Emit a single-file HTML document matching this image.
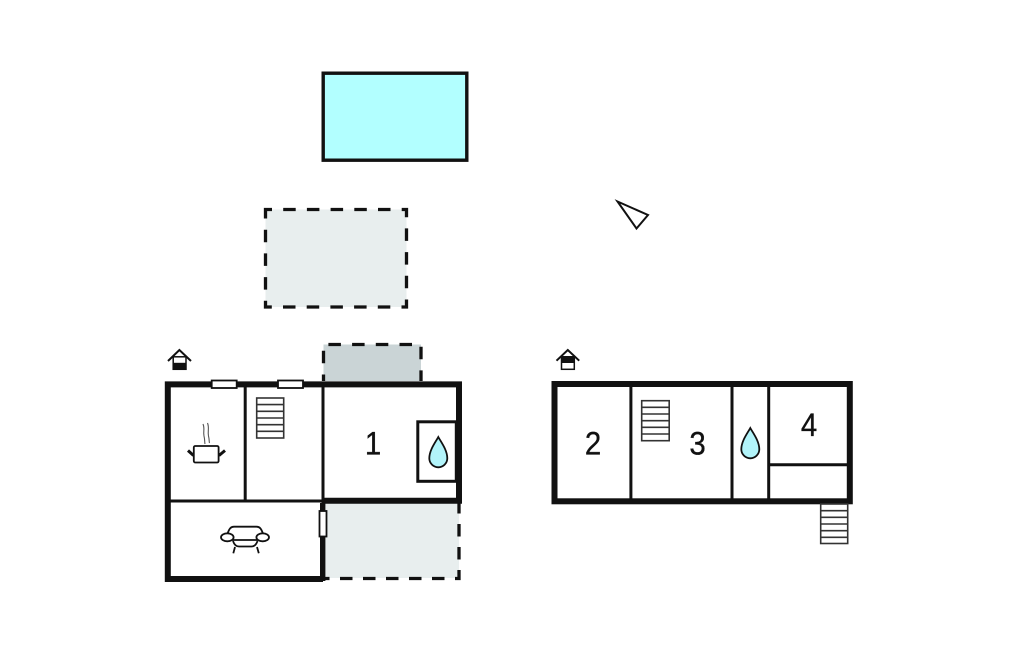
<!DOCTYPE html>
<html>
<head>
<meta charset="utf-8">
<style>
html,body{margin:0;padding:0;background:#fff;}
svg{display:block;}
text{font-family:"Liberation Sans",sans-serif;font-size:32px;fill:#111;stroke:#111;stroke-width:.35px;text-anchor:middle;}
</style>
</head>
<body>
<svg width="1024" height="652" viewBox="0 0 1024 652" xmlns="http://www.w3.org/2000/svg">
<rect width="1024" height="652" fill="#fff"/>

<!-- pool -->
<rect x="323.2" y="73.2" width="143.6" height="87" fill="#b2ffff" stroke="#111" stroke-width="3.4"/>

<!-- dashed terraces -->
<rect x="265.5" y="209.5" width="141" height="97.5" fill="#e8eeee" stroke="#111" stroke-width="3.3" stroke-dasharray="12.5 11.2" stroke-dashoffset="6"/>
<path d="M323.5 381V344.5H421V381" fill="#cad4d6" stroke="#111" stroke-width="3.3" stroke-dasharray="12.5 11.2" stroke-dashoffset="6"/>
<rect x="325" y="503" width="134" height="75" fill="#e8eeee"/>
<path d="M459 503V578.5H325" fill="none" stroke="#111" stroke-width="3.3" stroke-dasharray="12.5 10.5" stroke-dashoffset="2"/>

<!-- compass -->
<polygon points="617.5,201.5 648,215 636.5,228.5" fill="#fff" stroke="#111" stroke-width="2"/>

<!-- left building walls -->
<g fill="none" stroke="#111">
<path d="M323 579H167.8V384.4H459V500.8H323" stroke-width="6"/>
<path d="M323 384V503" stroke-width="3"/>
<path d="M322.7 503V581" stroke-width="5.4"/>
<path d="M245.2 384V501" stroke-width="3"/>
<path d="M170 501H323" stroke-width="3"/>
<rect x="417.8" y="421.8" width="38.5" height="59.5" stroke-width="3"/>
</g>

<!-- windows -->
<g fill="#fff" stroke="#111" stroke-width="1.8">
<rect x="211.7" y="380.5" width="25" height="7.5"/>
<rect x="278" y="380.5" width="25" height="7.5"/>
<rect x="319.5" y="511" width="7" height="25.5"/>
</g>

<!-- right building walls -->
<g fill="none" stroke="#111">
<rect x="554.5" y="384" width="295.3" height="117.3" stroke-width="6"/>
<path d="M630.9 384V501M732 384V501M768.7 384V501" stroke-width="3"/>
<path d="M769 464.7H848" stroke-width="3"/>
</g>

<!-- stairs -->
<g fill="#fff" stroke="#333" stroke-width="1.6">
<rect x="256.7" y="398" width="27" height="40"/>
<path d="M257 404.6H283.5M257 411.3H283.5M257 418H283.5M257 424.7H283.5M257 431.3H283.5"/>
<rect x="641.7" y="400.7" width="27.5" height="40"/>
<path d="M642 407.3H669M642 414H669M642 420.7H669M642 427.3H669M642 434H669"/>
<rect x="820.7" y="504" width="27" height="39.5"/>
<path d="M821 510.7H847.5M821 517.3H847.5M821 524H847.5M821 530.7H847.5M821 537.3H847.5"/>
</g>

<!-- water drops -->
<path d="M438.3 437C441 442 447.3 450 447.3 458.3A9 9 0 0 1 429.3 458.3C429.3 450 435.6 442 438.3 437Z" fill="#b2f4fa" stroke="#111" stroke-width="1.8"/>
<path d="M750.3 428C753 433 759.3 441 759.3 449.3A9 9 0 0 1 741.3 449.3C741.3 441 747.6 433 750.3 428Z" fill="#b2f4fa" stroke="#111" stroke-width="1.8"/>

<!-- house icons -->
<g>
<rect x="173.2" y="356.8" width="12.8" height="12.5" fill="#fff" stroke="#111" stroke-width="1.5"/>
<rect x="172.5" y="362.8" width="14" height="7" fill="#111"/>
<path d="M168 361L179.4 350L191 361" fill="none" stroke="#111" stroke-width="2"/>
<rect x="561.5" y="356.8" width="12.8" height="12.5" fill="#fff" stroke="#111" stroke-width="1.5"/>
<rect x="561" y="356" width="13.8" height="7" fill="#111"/>
<path d="M556.5 360.7L567.8 350L579.2 360.7" fill="none" stroke="#111" stroke-width="2"/>
</g>

<!-- pot -->
<g fill="none" stroke="#111">
<rect x="193.8" y="446" width="24.8" height="16.5" rx="1.5" fill="#fff" stroke-width="1.8"/>
<path d="M188 450.5L193.5 455.5M225 450.5L219 455.5" stroke-width="3"/>
<path d="M203 424C205 429 203 431 204 436C205 440 204.5 442 205 444M207.5 423C209.5 428 207.5 431 208.5 436C209.5 440 209 442 209.5 443" stroke="#555" stroke-width="1.1"/>
</g>

<!-- sofa -->
<g fill="none" stroke="#111" stroke-width="1.8">
<path d="M227.5 533.5C229 530 230 526.7 234 526.7H256.5C260.5 526.7 261.5 530 263 533.5"/>
<path d="M232 540H258"/>
<path d="M233 541C234 544 236 546.5 239 546.5H251.5C254.5 546.5 256.5 544 257.5 541"/>
<ellipse cx="227.3" cy="537.3" rx="6.3" ry="4" fill="#fff"/>
<ellipse cx="262.7" cy="537.3" rx="6.3" ry="4" fill="#fff"/>
<path d="M235 547L233.3 553.3M257 547L258.8 553.3"/>
</g>

<!-- labels -->
<text transform="translate(373 454.5) scale(.92 1)">1</text>
<text transform="translate(593 454.5) scale(.92 1)">2</text>
<text transform="translate(697.5 454.5) scale(.92 1)">3</text>
<text transform="translate(809 436) scale(.92 1)">4</text>
</svg>
</body>
</html>
